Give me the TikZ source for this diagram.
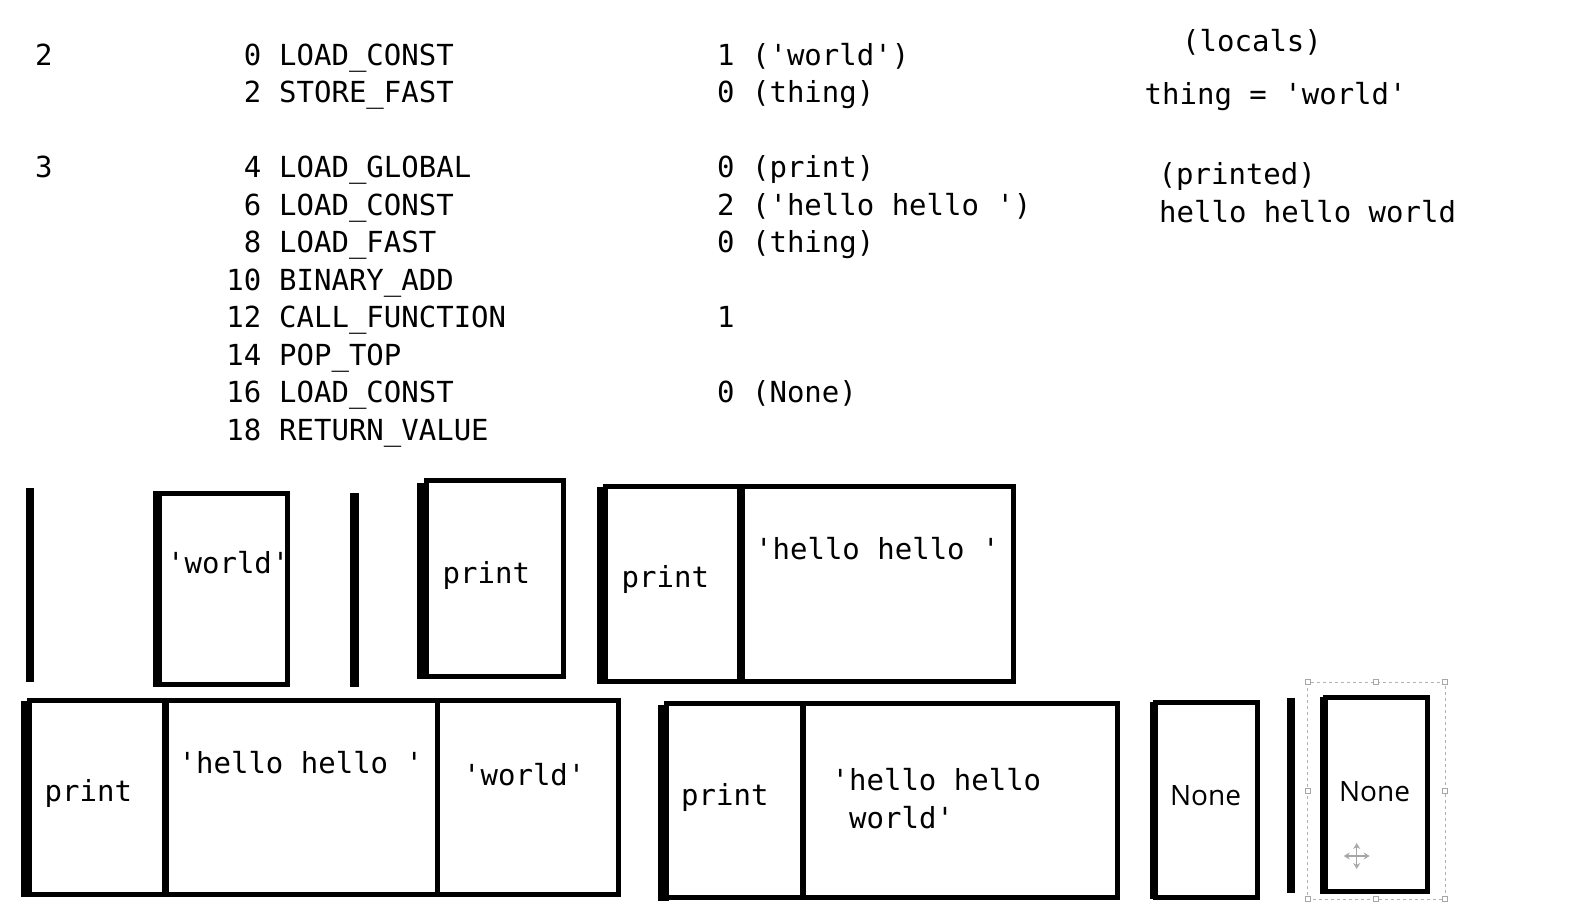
\documentclass[tikz,border=0pt]{standalone}
\usepackage{fontspec}
\setmonofont{DejaVu Sans Mono}
\newfontfamily\nonefont{Open Sans}
\usetikzlibrary{arrows.meta}
\begin{document}
\begin{tikzpicture}[x=1pt,y=-1pt,
  code/.style={font=\ttfamily\fontsize{29}{38}\selectfont, inner sep=0pt, anchor=base west},
  codee/.style={code, anchor=base east},
  nonetxt/.style={font=\nonefont\fontsize{28}{34}\selectfont, inner sep=0pt, anchor=base},
  edge/.style={line width=5pt},
  handle/.style={draw=gray!70, fill=white, line width=0.8pt, minimum size=5pt, inner sep=0pt}]
\fill[white] (0,0) rectangle (1588,908);
\useasboundingbox (0,0) rectangle (1588,908);

% ---- bytecode listing ----
\node[code] (ln2) at (35,65) {2};
\node[code] (ln3) at (35,177.5) {3};

\node[codee] (o0)  at (261.5,65)    {0};
\node[codee] (o2)  at (261.5,102.5) {2};
\node[codee] (o4)  at (261.5,177.5) {4};
\node[codee] (o6)  at (261.5,215)   {6};
\node[codee] (o8)  at (261.5,252.5) {8};
\node[codee] (o10) at (261.5,290)   {10};
\node[codee] (o12) at (261.5,327.5) {12};
\node[codee] (o14) at (261.5,365)   {14};
\node[codee] (o16) at (261.5,402.5) {16};
\node[codee] (o18) at (261.5,440)   {18};

\node[code] (n0)  at (279,65)    {LOAD\_CONST};
\node[code] (n2)  at (279,102.5) {STORE\_FAST};
\node[code] (n4)  at (279,177.5) {LOAD\_GLOBAL};
\node[code] (n6)  at (279,215)   {LOAD\_CONST};
\node[code] (n8)  at (279,252.5) {LOAD\_FAST};
\node[code] (n10) at (279,290)   {BINARY\_ADD};
\node[code] (n12) at (279,327.5) {CALL\_FUNCTION};
\node[code] (n14) at (279,365)   {POP\_TOP};
\node[code] (n16) at (279,402.5) {LOAD\_CONST};
\node[code] (n18) at (279,440)   {RETURN\_VALUE};

\node[code] (a0)  at (717,65)    {1 ('world')};
\node[code] (a2)  at (717,102.5) {0 (thing)};
\node[code] (a4)  at (717,177.5) {0 (print)};
\node[code] (a6)  at (717,215)   {2 ('hello hello ')};
\node[code] (a8)  at (717,252.5) {0 (thing)};
\node[code] (a12) at (717,327.5) {1};
\node[code] (a16) at (717,402.5) {0 (None)};

% ---- right notes ----
\node[code] (locals)  at (1182,51)    {(locals)};
\node[code] (thing)   at (1144.5,104) {thing = 'world'};
\node[code] (printed) at (1158.5,184) {(printed)};
\node[code] (output)  at (1159,222)   {hello hello world};

% ---- top row of stacks ----
\fill (26,488.3) rectangle (34,681.7);

\draw[edge] (157.5,493.2) rectangle (287.5,684.3);
\fill (152.7,490.7) rectangle (162.3,687);
\node[code] (w1) at (167,573) {'world'};

\fill (350,492.7) rectangle (359.3,686.7);

\draw[edge] (426.8,480.8) rectangle (563.5,676.2);
\fill (417.3,483.3) rectangle (429.3,679);
\node[code] (p1) at (442.5,583) {print};

\draw[edge] (605.8,486.2) rectangle (1013.3,681.7);
\fill (597.3,486.7) rectangle (608.3,684.3);
\draw[line width=8pt] (740.8,486.2) -- (740.8,681.7);
\node[code] (p2) at (621.5,587.7) {print};
\node[code] (h1) at (755,559) {'hello hello '};

% ---- bottom row of stacks ----
\draw[edge] (29.2,700) rectangle (618.3,894.5);
\fill (20.7,700.7) rectangle (31.7,897.3);
\draw[line width=7pt] (165.3,700) -- (165.3,894.5);
\draw[edge] (437.2,700) -- (437.2,894.5);
\node[code] (p3) at (44.5,801.7) {print};
\node[code] (h2) at (178.5,773.3) {'hello hello '};
\node[code] (w2) at (463,785) {'world'};

\draw[edge] (666.8,703.3) rectangle (1117.8,897.8);
\fill (658.3,705) rectangle (669.3,900.7);
\draw[line width=6pt] (803,703.3) -- (803,897.8);
\node[code] (p4) at (681,805) {print};
\node[code] (h3a) at (831.5,790) {'hello hello};
\node[code] (h3b) at (849,828.3) {world'};

\draw[edge] (1155.8,702.5) rectangle (1257.8,897.2);
\fill (1150,701.7) rectangle (1158.3,899.3);
\node[nonetxt] (none1) at (1205.5,805) {None};

\fill (1286.7,698.3) rectangle (1295,892.7);

\draw[edge] (1325.8,697.8) rectangle (1427.5,891.7);
\fill (1320,696.7) rectangle (1328.3,894);
\node[nonetxt] (none2) at (1374.5,801.7) {None};

% ---- selection frame ----
\draw[gray!60, dashed, line width=1pt] (1307.7,682.3) rectangle (1445,899);
\foreach \hx/\hy in {1307.7/682.3,1376.3/682.3,1445/682.3,1307.7/790.6,1445/790.6,1307.7/899,1376.3/899,1445/899}
  \node[handle] at (\hx,\hy) {};
\coordinate (mv) at (1356.7,856);
\draw[gray!70, line width=1.2pt, {Stealth[open,length=6pt,width=7pt]}-{Stealth[open,length=6pt,width=7pt]}] ([xshift=-13pt]mv) -- ([xshift=13pt]mv);
\draw[gray!70, line width=1.2pt, {Stealth[open,length=6pt,width=7pt]}-{Stealth[open,length=6pt,width=7pt]}] ([yshift=-13pt]mv) -- ([yshift=13pt]mv);
\end{tikzpicture}
\end{document}
